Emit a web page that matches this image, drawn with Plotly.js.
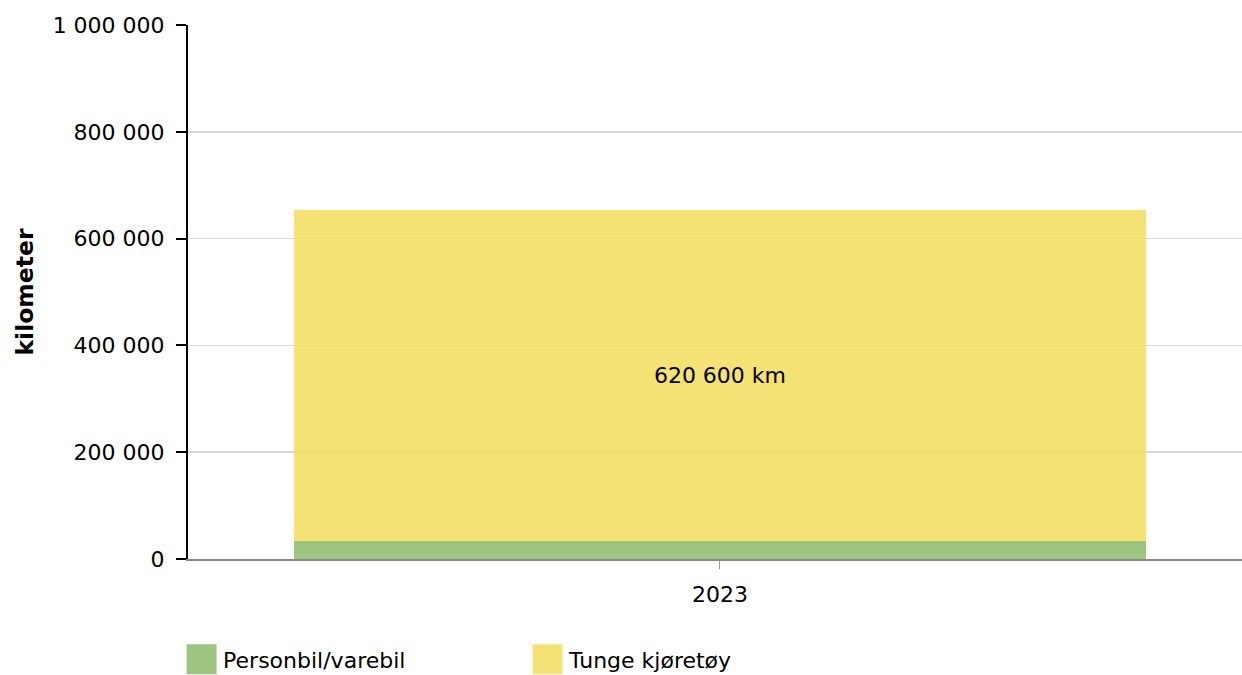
<!DOCTYPE html>
<html>
<head>
<meta charset="utf-8">
<script src="https://cdn.plot.ly/plotly-3.0.1.min.js"></script>
<style>
  html, body { margin: 0; padding: 0; background: #fff; }
  #chart { width: 1242px; height: 675px; }
</style>
</head>
<body>
<div id="chart"></div>
<script>
// Data
const categories = ['2023'];
const seriesNames = ['Personbil/varebil', 'Tunge kjøretøy'];
const personbilValues = [33000];
const tungeValues = [620600];
const yTickValues = [0, 200000, 400000, 600000, 800000, 1000000];

const FONT = 'DejaVu Sans, Verdana, sans-serif';
const FS = 22;

const traces = [
  {
    type: 'bar',
    name: seriesNames[0],
    x: categories,
    y: personbilValues,
    width: 0.8,
    marker: { color: 'rgba(140,187,104,0.85)', line: { width: 0 } },
    hoverinfo: 'skip'
  },
  {
    type: 'bar',
    name: seriesNames[1],
    x: categories,
    y: tungeValues,
    width: 0.8,
    marker: { color: 'rgba(243,221,93,0.85)', line: { width: 0 } },
    texttemplate: '%{y:,.0f} km',
    textposition: 'inside',
    insidetextanchor: 'middle',
    textangle: 0,
    insidetextfont: { family: FONT, size: FS, color: '#000' },
    hoverinfo: 'skip'
  }
];

const layout = {
  width: 1242,
  height: 675,
  barmode: 'stack',
  separators: ', ',
  paper_bgcolor: '#fff',
  plot_bgcolor: '#fff',
  font: { family: FONT, size: FS, color: '#000' },
  margin: { l: 188, r: 0, t: 25, b: 116, autoexpand: false },
  showlegend: true,
  legend: {
    orientation: 'h',
    x: -0.0075,
    xanchor: 'left',
    y: -0.188,
    yanchor: 'middle',
    traceorder: 'normal',
    itemwidth: 33,
    entrywidth: 298,
    entrywidthmode: 'pixels',
    font: { family: FONT, size: FS, color: '#000' },
    bgcolor: 'rgba(0,0,0,0)'
  },
  xaxis: {
    type: 'category',
    range: [-0.4995, 0.4902],
    showgrid: false,
    showline: true,
    linecolor: '#888',
    linewidth: 1.5,
    ticks: 'outside',
    ticklen: 8,
    tickwidth: 1,
    tickcolor: '#999',
    ticklabelstandoff: 7,
    tickfont: { family: FONT, size: FS, color: '#000' },
    fixedrange: true
  },
  yaxis: {
    range: [0, 1000000],
    tickvals: yTickValues,
    tickformat: ',.0f',
    showgrid: true,
    gridcolor: '#d9d9d9',
    gridwidth: 1.5,
    zeroline: false,
    showline: true,
    linecolor: '#000',
    linewidth: 2,
    ticks: 'outside',
    ticklen: 10,
    tickwidth: 2,
    tickcolor: '#000',
    ticklabelstandoff: 7,
    tickfont: { family: FONT, size: FS, color: '#000' },
    title: {
      text: '<b>kilometer</b>',
      font: { family: FONT, size: 23.5, color: '#000' },
      standoff: 12
    },
    fixedrange: true
  }
};

Plotly.newPlot('chart', traces, layout, { staticPlot: true, displayModeBar: false }).then(function (gd) {
  // enlarge legend swatches to match the reference's large squares
  gd.querySelectorAll('.legend .legendpoints path').forEach(function (p) {
    p.setAttribute('d', 'M15,15H-15V-15H15Z');
  });
});
</script>
</body>
</html>
